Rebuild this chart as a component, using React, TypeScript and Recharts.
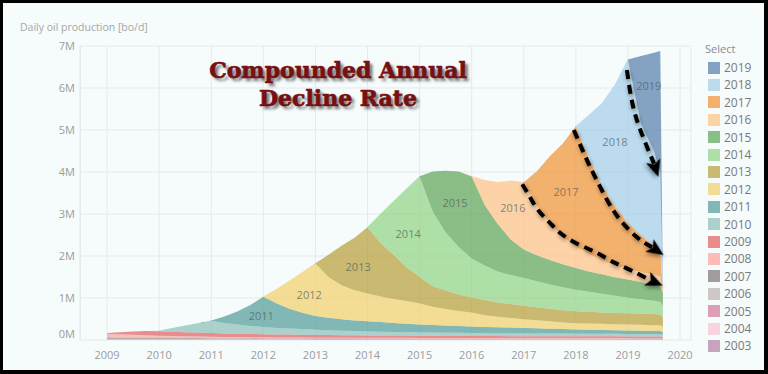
import {
  Area,
  CartesianGrid,
  ComposedChart,
  Line,
  ReferenceDot,
  ReferenceLine,
  XAxis,
  YAxis,
} from 'recharts'

// quarterly time axis (decimal years), last two points are the partial final months
const TIME = [
  2009, 2009.25, 2009.5, 2009.75, 2010, 2010.25, 2010.5, 2010.75, 2011, 2011.25, 2011.5, 2011.75,
  2012, 2012.25, 2012.5, 2012.75, 2013, 2013.25, 2013.5, 2013.75, 2014, 2014.25, 2014.5, 2014.75,
  2015, 2015.25, 2015.5, 2015.75, 2016, 2016.25, 2016.5, 2016.75, 2017, 2017.25, 2017.5, 2017.75,
  2018, 2018.25, 2018.5, 2018.75, 2019, 2019.25, 2019.5, 2019.62, 2019.67,
]

// production per vintage in millions bo/d; arrays start at the vintage's first quarter
const V2003 = [
  0.004, 0.004, 0.004, 0.004, 0.004, 0.004, 0.004, 0.004, 0.004, 0.004, 0.004, 0.004, 0.004, 0.004, 0.004,
  0.004, 0.004, 0.004, 0.004, 0.004, 0.003, 0.003, 0.003, 0.003, 0.003, 0.003, 0.003, 0.003, 0.003, 0.003,
  0.003, 0.003, 0.003, 0.003, 0.003, 0.003, 0.003, 0.003, 0.003, 0.003, 0.003, 0.003, 0.003, 0.003, 0.003,
]
const V2004 = [
  0.005, 0.005, 0.005, 0.005, 0.005, 0.005, 0.005, 0.005, 0.005, 0.005, 0.005, 0.005, 0.005, 0.005, 0.005,
  0.005, 0.004, 0.004, 0.004, 0.004, 0.004, 0.004, 0.004, 0.004, 0.004, 0.004, 0.004, 0.004, 0.004, 0.004,
  0.004, 0.004, 0.004, 0.004, 0.004, 0.004, 0.004, 0.004, 0.004, 0.004, 0.004, 0.004, 0.004, 0.004, 0.004,
]
const V2005 = [
  0.008, 0.008, 0.008, 0.008, 0.008, 0.008, 0.008, 0.008, 0.008, 0.008, 0.008, 0.008, 0.007, 0.007, 0.007,
  0.007, 0.007, 0.007, 0.007, 0.007, 0.007, 0.007, 0.007, 0.007, 0.006, 0.006, 0.006, 0.006, 0.006, 0.006,
  0.006, 0.006, 0.006, 0.006, 0.006, 0.006, 0.006, 0.006, 0.006, 0.006, 0.006, 0.006, 0.006, 0.006, 0.006,
]
const V2006 = [
  0.012, 0.012, 0.012, 0.012, 0.012, 0.012, 0.012, 0.012, 0.01, 0.01, 0.01, 0.01, 0.01, 0.01, 0.01,
  0.01, 0.01, 0.01, 0.01, 0.01, 0.01, 0.01, 0.01, 0.01, 0.008, 0.008, 0.008, 0.008, 0.008, 0.008,
  0.008, 0.008, 0.008, 0.008, 0.008, 0.008, 0.008, 0.008, 0.008, 0.008, 0.008, 0.008, 0.008, 0.008, 0.008,
]
const V2007 = [
  0.03, 0.027, 0.025, 0.023, 0.021, 0.019, 0.018, 0.017, 0.016, 0.015, 0.014, 0.013, 0.012, 0.012, 0.011,
  0.011, 0.01, 0.01, 0.01, 0.01, 0.01, 0.01, 0.01, 0.01, 0.01, 0.01, 0.01, 0.01, 0.01, 0.01,
  0.01, 0.01, 0.01, 0.01, 0.01, 0.01, 0.01, 0.01, 0.01, 0.01, 0.01, 0.01, 0.01, 0.01, 0.009,
]
const V2008 = [
  0.09, 0.08, 0.07, 0.06, 0.05, 0.045, 0.04, 0.036, 0.033, 0.03, 0.028, 0.026, 0.025, 0.024, 0.023,
  0.022, 0.021, 0.02, 0.02, 0.019, 0.019, 0.018, 0.018, 0.018, 0.017, 0.017, 0.017, 0.016, 0.016, 0.016,
  0.016, 0.015, 0.015, 0.015, 0.015, 0.015, 0.014, 0.014, 0.014, 0.014, 0.014, 0.013, 0.013, 0.013, 0.012,
]
const V2009 = [
  0.02, 0.05, 0.08, 0.1, 0.11, 0.105, 0.1, 0.095, 0.09, 0.085, 0.08, 0.077, 0.074, 0.071, 0.068,
  0.066, 0.064, 0.062, 0.06, 0.058, 0.056, 0.055, 0.054, 0.053, 0.052, 0.051, 0.05, 0.049, 0.048, 0.047,
  0.046, 0.046, 0.045, 0.045, 0.044, 0.044, 0.043, 0.043, 0.042, 0.042, 0.041, 0.041, 0.04, 0.04, 0.035,
]
const V2010 = [
  0.01, 0.09, 0.16, 0.23, 0.29, 0.25, 0.22, 0.19, 0.17, 0.155, 0.145, 0.135, 0.125, 0.115, 0.105, 0.1,
  0.095, 0.09, 0.086, 0.083, 0.08, 0.078, 0.076, 0.074, 0.072, 0.07, 0.068, 0.067, 0.066, 0.065, 0.064,
  0.063, 0.062, 0.061, 0.06, 0.059, 0.058, 0.057, 0.056, 0.055, 0.05,
]
const V2011 = [
  0.01, 0.15, 0.31, 0.5, 0.72, 0.585, 0.47, 0.39, 0.325, 0.3, 0.275, 0.255, 0.245, 0.23, 0.215, 0.2,
  0.19, 0.182, 0.172, 0.162, 0.155, 0.148, 0.142, 0.136, 0.13, 0.124, 0.115, 0.108, 0.102, 0.097, 0.092,
  0.088, 0.084, 0.08, 0.077, 0.075, 0.065,
]
const V2012 = [
  0.01, 0.34, 0.67, 0.97, 1.25, 0.97, 0.81, 0.72, 0.66, 0.61, 0.57, 0.54, 0.5, 0.43, 0.395, 0.36,
  0.33, 0.28, 0.25, 0.23, 0.21, 0.19, 0.175, 0.155, 0.145, 0.145, 0.145, 0.14, 0.14, 0.14, 0.135,
  0.135, 0.12,
]
const V2013 = [
  0.01, 0.53, 0.94, 1.25, 1.57, 1.27, 1.05, 0.8, 0.63, 0.49, 0.44, 0.39, 0.36, 0.36, 0.34, 0.33,
  0.32, 0.31, 0.3, 0.29, 0.29, 0.28, 0.27, 0.27, 0.27, 0.27, 0.27, 0.26, 0.23,
]
const V2014 = [
  0.01, 0.7, 1.28, 1.88, 2.39, 1.78, 1.38, 1.13, 0.93, 0.82, 0.74, 0.69, 0.66, 0.62, 0.58, 0.55,
  0.51, 0.48, 0.45, 0.41, 0.37, 0.34, 0.31, 0.3, 0.26,
]
const V2015 = [
  0.01, 0.95, 1.47, 1.8, 1.95, 1.44, 1.13, 0.85, 0.68, 0.62, 0.58, 0.55, 0.52, 0.48, 0.46, 0.44,
  0.43, 0.41, 0.39, 0.38, 0.33,
]
const V2016 = [0.01, 0.6, 1.0, 1.4, 1.59, 1.2, 0.87, 0.65, 0.51, 0.42, 0.34, 0.28, 0.25, 0.24, 0.23, 0.23, 0.04]
const V2017 = [0.01, 0.8, 1.6, 2.22, 2.86, 2.28, 1.78, 1.41, 1.1, 0.87, 0.69, 0.6, 0.03]
const V2018 = [0.01, 1.03, 1.95, 2.9, 3.88, 2.65, 2.25, 1.87, 0.02]
const V2019 = [0.01, 1.62, 2.35, 2.89, 0.01]

const VINTAGES = [2003, 2004, 2005, 2006, 2007, 2008, 2009, 2010, 2011, 2012, 2013, 2014, 2015, 2016, 2017, 2018, 2019]
const SERIES = [V2003, V2004, V2005, V2006, V2007, V2008, V2009, V2010, V2011, V2012, V2013, V2014, V2015, V2016, V2017, V2018, V2019]
const COLORS = [
  '#b07aa1', '#fabfd2', '#d37295', '#bab0ac', '#79706e', '#ff9d9a', '#e15759', '#86bcb6', '#499894',
  '#f1ce63', '#b6992d', '#8cd17d', '#59a14f', '#ffbe7d', '#f28e2b', '#a0cbe8', '#4e79a7',
]

const X_TICKS = [2009, 2010, 2011, 2012, 2013, 2014, 2015, 2016, 2017, 2018, 2019, 2020]
const Y_TICKS = [0, 1, 2, 3, 4, 5, 6, 7]

// in-area vintage labels [text, year, value]
const AREA_LABELS: [string, number, number][] = [
  ['2011', 2011.96, 0.57],
  ['2012', 2012.88, 1.07],
  ['2013', 2013.82, 1.74],
  ['2014', 2014.78, 2.52],
  ['2015', 2015.68, 3.26],
  ['2016', 2016.79, 3.14],
  ['2017', 2017.81, 3.52],
  ['2018', 2018.75, 4.71],
  ['2019', 2019.4, 6.05],
]

// hand-drawn decline arrows, in data coordinates
const ARROW_1 = [
  { t: 2018.98, v: 6.43 },
  { t: 2019.1, v: 5.55 },
  { t: 2019.29, v: 4.83 },
  { t: 2019.5, v: 4.2 },
]
const ARROW_2 = [
  { t: 2017.96, v: 5.0 },
  { t: 2018.21, v: 4.29 },
  { t: 2018.37, v: 3.88 },
  { t: 2018.6, v: 3.33 },
  { t: 2018.85, v: 2.86 },
  { t: 2019.17, v: 2.45 },
  { t: 2019.46, v: 2.21 },
]
const ARROW_3 = [
  { t: 2016.97, v: 3.71 },
  { t: 2017.12, v: 3.4 },
  { t: 2017.27, v: 3.1 },
  { t: 2017.5, v: 2.79 },
  { t: 2017.75, v: 2.5 },
  { t: 2018.08, v: 2.26 },
  { t: 2018.41, v: 2.07 },
  { t: 2018.71, v: 1.86 },
  { t: 2019.04, v: 1.67 },
  { t: 2019.42, v: 1.43 },
]
const ARROWS = [
  { data: ARROW_1, angle: 72 },
  { data: ARROW_2, angle: 34 },
  { data: ARROW_3, angle: 24 },
]

const rows = TIME.map((t, i) => {
  const r: Record<string, number> = { t }
  VINTAGES.forEach((v, k) => {
    const arr = SERIES[k]
    const s = TIME.length - arr.length
    r['y' + v] = i < s ? 0 : arr[i - s]
  })
  return r
})

const FONT = '"Open Sans", "DejaVu Sans", sans-serif'
const AREA_OPACITY = 0.68

function YTick(props: any) {
  const { x, y, payload } = props
  return (
    <text
      x={x}
      y={y + (payload.value === 0 ? -6 : 0)}
      dy="0.35em"
      textAnchor="end"
      fill="#9c9c9c"
      fontSize={11}
      fontFamily={FONT}
    >
      {payload.value}M
    </text>
  )
}

function ArrowHead({ cx, cy, angle }: { cx?: number; cy?: number; angle: number }) {
  if (cx == null || cy == null) return null
  return (
    <g transform={`translate(${cx},${cy}) rotate(${angle})`} style={{ filter: 'drop-shadow(1px 2px 2px rgba(0,0,0,0.45))' }}>
      <polygon points="-3,-7.5 14,0 -3,7.5 1,0" fill="#000" />
    </g>
  )
}

export default function App() {
  return (
    <div style={{ position: 'absolute', left: 0, top: 0, width: 768, height: 374, background: '#000' }}>
      <style>{`.arrow-line path { filter: drop-shadow(1px 2px 2px rgba(0,0,0,0.45)); }`}</style>
      <div style={{ position: 'absolute', left: 3, top: 3, width: 761, height: 367, background: '#f6fbfc' }} />
      <div
        style={{
          position: 'absolute',
          left: 20,
          top: 20,
          fontFamily: FONT,
          fontSize: 10.5,
          color: '#a6a6a6',
        }}
      >
        Daily oil production [bo/d]
      </div>
      <div style={{ position: 'absolute', left: 0, top: 0 }}>
        <ComposedChart
          width={768}
          height={374}
          data={rows}
          margin={{ top: 46, right: 77, bottom: 6, left: 0 }}
        >
          <CartesianGrid stroke="#e5eaeb" />
          <ReferenceLine x={2008.49} stroke="#e5eaeb" />
          <XAxis
            type="number"
            dataKey="t"
            domain={[2008.48, 2020.21]}
            ticks={X_TICKS}
            allowDataOverflow
            axisLine={false}
            tickLine={false}
            tickMargin={5}
            height={28}
            tick={{ fill: '#9c9c9c', fontSize: 11, fontFamily: FONT }}
          />
          <YAxis
            type="number"
            domain={[0, 7]}
            ticks={Y_TICKS}
            width={80}
            axisLine={false}
            tickLine={false}
            tickSize={3}
            tickMargin={2}
            tick={<YTick />}
          />
          {VINTAGES.map((v, k) => (
            <Area
              key={v}
              type="linear"
              dataKey={'y' + v}
              stackId="vintage"
              fill={COLORS[k]}
              fillOpacity={AREA_OPACITY}
              stroke="none"
              isAnimationActive={false}
            />
          ))}
          {AREA_LABELS.map(([txt, t, v]) => (
            <ReferenceDot
              key={txt}
              x={t}
              y={v}
              r={0}
              shape={(p: any) => (
                <text
                  x={p.cx}
                  y={p.cy}
                  dy="0.35em"
                  textAnchor="middle"
                  fontSize={11}
                  fontFamily={FONT}
                  fill="#4f5a5a"
                  fillOpacity={0.7}
                >
                  {txt}
                </text>
              )}
            />
          ))}
          {ARROWS.map((a, i) => (
            <Line
              key={'arrow' + i}
              className="arrow-line"
              data={a.data}
              dataKey="v"
              type="natural"
              stroke="#000"
              strokeWidth={4}
              strokeDasharray="9 6"
              dot={false}
              activeDot={false}
              isAnimationActive={false}
            />
          ))}
          {ARROWS.map((a, i) => {
            const end = a.data[a.data.length - 1]
            return (
              <ReferenceDot
                key={'head' + i}
                x={end.t}
                y={end.v}
                r={0}
                shape={(p: any) => <ArrowHead cx={p.cx} cy={p.cy} angle={a.angle} />}
              />
            )
          })}
        </ComposedChart>
      </div>
      <div
        style={{
          position: 'absolute',
          left: 200,
          top: 56,
          width: 276,
          textAlign: 'center',
          fontFamily: '"DejaVu Serif", serif',
          fontWeight: 700,
          fontSize: 22,
          lineHeight: '28px',
          color: '#761012',
          WebkitTextStroke: '0.7px #761012',
          textShadow: '3px 3px 3px rgba(0,0,0,0.55)',
        }}
      >
        Compounded Annual
        <br />
        Decline Rate
      </div>
      <div style={{ position: 'absolute', left: 705, top: 41, fontFamily: FONT, fontSize: 11, color: '#8c8c8c' }}>
        Select
      </div>
      {[...VINTAGES].reverse().map((v, i) => {
        const k = VINTAGES.indexOf(v)
        return (
          <div
            key={v}
            style={{
              position: 'absolute',
              left: 708,
              top: 61 + i * 17.4,
              height: 13,
              display: 'flex',
              alignItems: 'center',
              fontFamily: FONT,
              fontSize: 12,
              color: '#7a7a7a',
            }}
          >
            <span
              style={{
                width: 12,
                height: 12,
                background: COLORS[k],
                opacity: AREA_OPACITY,
                display: 'inline-block',
                marginRight: 4,
              }}
            />
            {v}
          </div>
        )
      })}
    </div>
  )
}
